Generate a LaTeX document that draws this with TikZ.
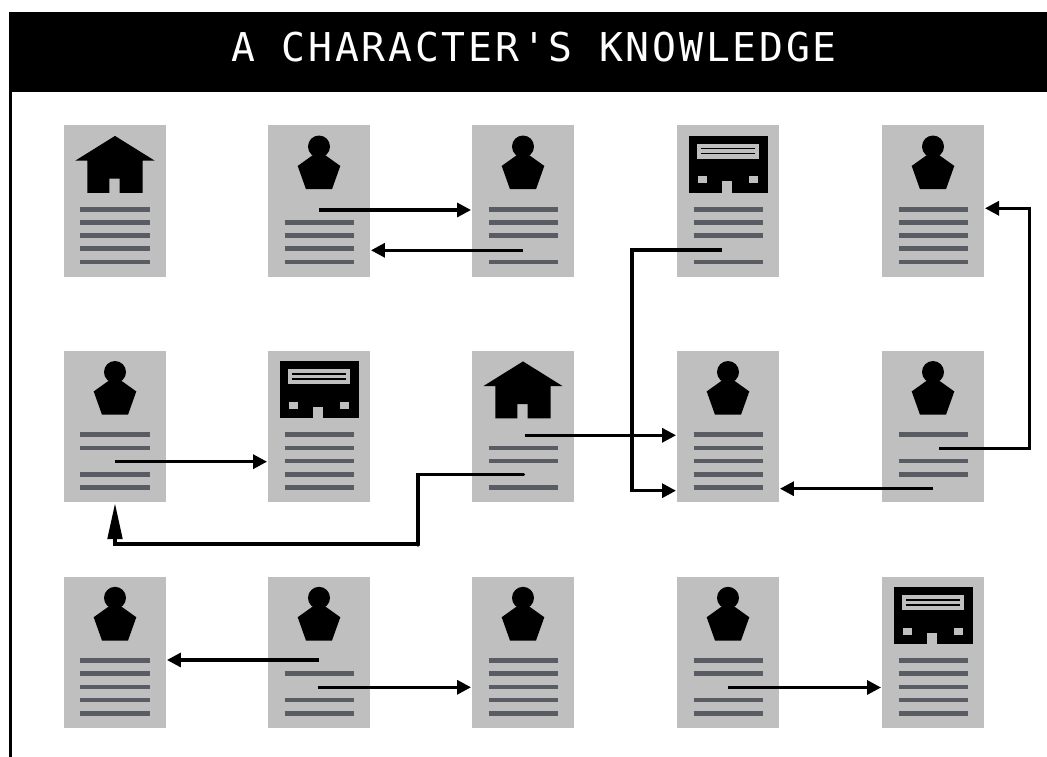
\documentclass[tikz,border=0pt]{standalone}
\usepackage{fontspec}
\newfontfamily\titlefont[LetterSpace=7]{DejaVu Sans Mono}
\usetikzlibrary{arrows.meta}

\definecolor{pagegray}{HTML}{BFBFBF}
\definecolor{linegray}{HTML}{5A5C64}

\tikzset{
  page node/.style={rectangle,fill=pagegray,minimum width=1.025cm,minimum height=1.515cm,inner sep=0pt},
  text line/.style={draw=linegray,line width=0.047cm},
  link/.style={line width=0.032cm,-{Triangle[length=0.14cm,width=0.14cm]}},
  person/.pic={
    \fill (0,-0.218) circle (0.11);
    \fill (0,-0.26) -- (0.213,-0.412) -- (0.13,-0.645) -- (-0.13,-0.645) -- (-0.213,-0.412) -- cycle;
  },
  house/.pic={
    \fill (0,-0.112) -- (0.395,-0.358) -- (0.277,-0.358) -- (0.277,-0.682) -- (0.047,-0.682)
      -- (0.047,-0.538) -- (-0.057,-0.538) -- (-0.057,-0.682) -- (-0.277,-0.682) -- (-0.277,-0.358) -- (-0.395,-0.358) -- cycle;
  },
  shop/.pic={
    \fill (-0.395,-0.112) rectangle (0.395,-0.682);
    \fill[pagegray] (-0.308,-0.192) rectangle (0.31,-0.342);
    \fill (-0.273,-0.232) rectangle (0.273,-0.247);
    \fill (-0.273,-0.282) rectangle (0.273,-0.297);
    \fill[pagegray] (-0.30,-0.515) rectangle (-0.207,-0.585);
    \fill[pagegray] (0.21,-0.515) rectangle (0.303,-0.585);
    \fill[pagegray] (-0.057,-0.565) rectangle (0.037,-0.682);
  }
}

% name, x, y, icon, lines that are printed
\newcommand{\pagenode}[5]{
  \node[page node] (#1) at (#2,#3) {};
  \pic at (#1.north) {#4};
  \foreach \n in {#5}
    \draw[text line,shift={(#1.north)}] (-0.345,{-0.845-0.132*(\n-1)}) -- (0.345,{-0.845-0.132*(\n-1)});
}

\begin{document}
\begin{tikzpicture}
  \useasboundingbox (0,0) rectangle (10.47,-7.57);
  \fill (0.09,-0.12) rectangle (10.47,-0.92);
  \fill (0.088,-0.92) rectangle (0.122,-7.57);
  \node[text=white,inner sep=0pt] (title) at (5.34,-0.475) {\titlefont\fontsize{11.3}{14}\selectfont A CHARACTER'S KNOWLEDGE};

  \pagenode{a1}{1.15}{-2.012}{house}{1,2,3,4,5}
  \pagenode{a2}{3.19}{-2.012}{person}{2,3,4,5}
  \pagenode{a3}{5.23}{-2.012}{person}{1,2,3,5}
  \pagenode{a4}{7.28}{-2.012}{shop}{1,2,3,5}
  \pagenode{a5}{9.33}{-2.012}{person}{1,2,3,4,5}

  \pagenode{b1}{1.15}{-4.267}{person}{1,2,4,5}
  \pagenode{b2}{3.19}{-4.267}{shop}{1,2,3,4,5}
  \pagenode{b3}{5.23}{-4.267}{house}{2,3,5}
  \pagenode{b4}{7.28}{-4.267}{person}{1,2,3,4,5}
  \pagenode{b5}{9.33}{-4.267}{person}{1,3,4}

  \pagenode{c1}{1.15}{-6.525}{person}{1,2,3,4,5}
  \pagenode{c2}{3.19}{-6.525}{person}{2,4,5}
  \pagenode{c3}{5.23}{-6.525}{person}{1,2,3,4,5}
  \pagenode{c4}{7.28}{-6.525}{person}{1,2,4,5}
  \pagenode{c5}{9.33}{-6.525}{shop}{1,2,3,4,5}

  \coordinate (a2r) at (3.19,-2.10);
  \coordinate (a3l) at (5.23,-2.503);
  \coordinate (a4l) at (7.22,-2.50);
  \coordinate (b5u) at (9.39,-4.487);
  \coordinate (b5l) at (9.33,-4.887);
  \coordinate (b4t) at (6.76,-4.907);
  \coordinate (a5t) at (9.85,-2.083);
  \coordinate (b3r) at (5.245,-4.353);
  \coordinate (b1r) at (1.145,-4.617);
  \coordinate (b3l) at (5.235,-4.747);
  \coordinate (b1b) at (1.15,-5.44);
  \coordinate (turn) at (4.18,-5.44);
  \coordinate (knob) at (4.18,-5.448);
  \coordinate (c2l) at (3.19,-6.60);
  \coordinate (c2r) at (3.175,-6.873);
  \coordinate (c4r) at (7.28,-6.875);

  \draw[link] (a2r) -- (a2r -| a3.west);
  \draw[link] (a3l) -- (a3l -| a2.east);
  \draw[link] (a4l) -- (6.32,-2.50) -- (6.32,-4.907) -- (b4t);
  \draw[link] (b5u) -- (10.295,-4.487) -- (10.295,-2.083) -- (a5t);
  \draw[link] (b5l) -- (b5l -| b4.east);
  \draw[link] (b3r) -- (b3r -| b4.west);
  \draw[link] (b1r) -- (b1r -| b2.west);
  \draw[line width=0.035cm,line cap=round] (b3l) -- (turn |- b3l) -- (knob);
  \draw[line width=0.035cm,-{Triangle[length=0.36cm,width=0.145cm]}] (turn) -- (b1b) -- (b1.south);
  \draw[link] (c2l) -- (c2l -| c1.east);
  \draw[link] (c2r) -- (c2r -| c3.west);
  \draw[link] (c4r) -- (c4r -| c5.west);
\end{tikzpicture}
\end{document}
